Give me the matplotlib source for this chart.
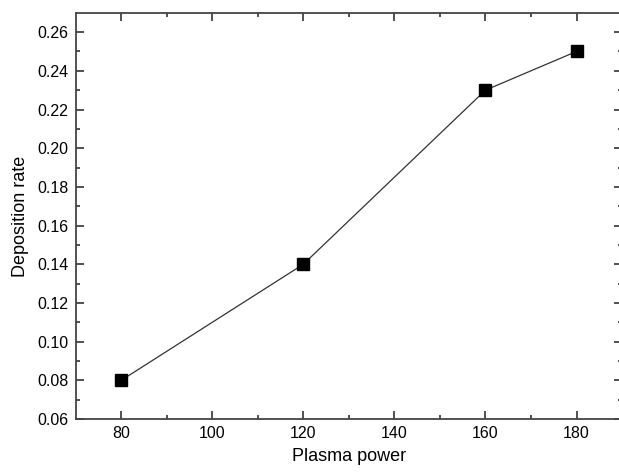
import numpy as np
import matplotlib
matplotlib.use("Agg")
import matplotlib.pyplot as plt

plt.rcParams['font.family'] = ['Liberation Sans', 'DejaVu Sans']

# data
power = [80, 120, 160, 180]
rate = [0.08, 0.14, 0.23, 0.25]

fig = plt.figure(figsize=(6.19, 4.72), dpi=100)
ax = fig.add_axes([0.122, 0.112, 0.883, 0.861])

ax.plot(power, rate, color='#333333', lw=0.9, marker='s', ms=9,
        mfc='black', mec='black', zorder=3)

ax.set_xlim(70, 190)
ax.set_ylim(0.06, 0.27)
ax.set_xticks([80, 100, 120, 140, 160, 180])
ax.set_xticks([90, 110, 130, 150, 170], minor=True)
ax.set_yticks(np.arange(0.06, 0.261, 0.02))
ax.set_yticks(np.arange(0.07, 0.27, 0.02), minor=True)
ax.yaxis.set_major_formatter(matplotlib.ticker.FormatStrFormatter('%.2f'))

ax.tick_params(which='both', direction='in', top=True, right=True,
               labelsize=11.5, color='#333333', width=1.2)
ax.tick_params(which='major', length=6, pad=5)
ax.tick_params(which='minor', length=3)
for s in ax.spines.values():
    s.set_linewidth(1.3)
    s.set_color('#444444')

ax.set_xlabel('Plasma power', fontsize=13, labelpad=5)
ax.set_ylabel('Deposition rate', fontsize=13, labelpad=6)

fig.savefig('out.png', dpi=100)
